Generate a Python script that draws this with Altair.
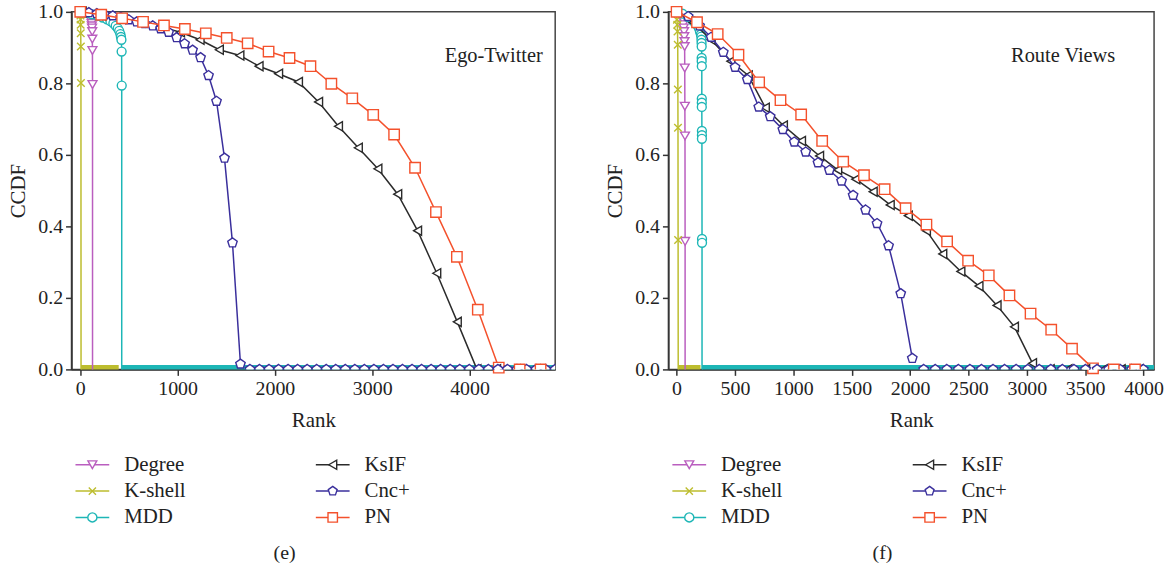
import altair as alt
import pandas as pd

FONT = "Liberation Serif"

SERIES = ["Degree", "K-shell", "MDD", "KsIF", "Cnc+", "PN"]
COLORS = ["#BA5EBF", "#BDBD2E", "#1DB6B6", "#2B2B2B", "#3A2F9C", "#F4512C"]
PENTAGON = "M0,-1L0.951,-0.309L0.588,0.809L-0.588,0.809L-0.951,-0.309Z"
XMARK = "M-0.8,-0.8L0.8,0.8M0.8,-0.8L-0.8,0.8"
SHAPES = ["triangle-down", XMARK, "circle", "triangle-left", PENTAGON, "square"]
SIZES = [80, 90, 80, 85, 100, 110]

# ---------------- Ego-Twitter ----------------
ego_degree_rank = [0, 40, 80, 100, 108, 112, 116, 119, 121, 123, 124, 125, 126, 126]
ego_degree_ccdf = [1.0, 0.998, 0.994, 0.988, 0.982, 0.976, 0.968, 0.961, 0.955, 0.945, 0.924, 0.892, 0.797, 0.0]

ego_kshell_rank = [0, 2, 3, 4, 5, 6, 7, 8]
ego_kshell_ccdf = [1.0, 0.99, 0.979, 0.964, 0.94, 0.903, 0.801, 0.0]

ego_mdd_rank = [0, 60, 120, 180, 230, 275, 310, 340, 364, 385, 400, 412, 418, 423, 425, 426, 426]
ego_mdd_ccdf = [1.0, 0.997, 0.993, 0.989, 0.984, 0.979, 0.974, 0.968, 0.961, 0.954, 0.947, 0.938,
                0.93, 0.922, 0.889, 0.794, 0.0]

ego_ksif_rank = [20, 222, 424, 626, 828, 1030, 1231, 1429, 1640, 1837, 2038, 2242, 2449, 2653,
                 2857, 3058, 3262, 3466, 3663, 3874, 4076]
ego_ksif_ccdf = [1.0, 0.99, 0.98, 0.97, 0.958, 0.943, 0.922, 0.894, 0.878, 0.848, 0.827, 0.804,
                 0.748, 0.680, 0.620, 0.561, 0.490, 0.388, 0.269, 0.133, 0.0]

ego_cnc_rank = [6, 88, 170, 252, 334, 416, 498, 580, 662, 744, 826, 908, 990, 1072, 1154, 1236,
                1318, 1400, 1482, 1564, 1646]
ego_cnc_ccdf = [1.0, 0.998, 0.995, 0.992, 0.989, 0.985, 0.978, 0.972, 0.967, 0.961, 0.953, 0.943,
                0.928, 0.911, 0.893, 0.872, 0.822, 0.750, 0.591, 0.354, 0.015]

ego_pn_rank = [0, 215, 430, 645, 860, 1075, 1290, 1505, 1720, 1935, 2150, 2365, 2580, 2795, 3010,
               3225, 3440, 3655, 3870, 4085, 4300]
ego_pn_ccdf = [1.0, 0.992, 0.982, 0.972, 0.962, 0.952, 0.940, 0.927, 0.912, 0.889, 0.871, 0.848,
               0.799, 0.758, 0.712, 0.657, 0.564, 0.440, 0.315, 0.167, 0.005]

# ranks where the CCDF has already reached zero
ego_ksif_zero = [4076, 4278, 4480, 4682]
ego_cnc_zero = [1744, 1842, 1940, 2038, 2136, 2234, 2332, 2430, 2528, 2626, 2724, 2822, 2920,
                3018, 3116, 3214, 3312, 3410, 3508, 3606, 3704, 3802, 3900, 3998, 4096, 4194,
                4292, 4390, 4488, 4586, 4684, 4782, 4880]
ego_pn_zero = [4515, 4730]
ego_kshell_zero = [8, 395]
ego_mdd_zero = [426, 4880]

# ---------------- Route Views ----------------
rv_degree_rank = [0, 30, 50, 57, 61, 64, 66, 68, 69, 70, 71, 72, 73, 73]
rv_degree_ccdf = [1.0, 0.99, 0.98, 0.964, 0.955, 0.945, 0.931, 0.917, 0.903, 0.843, 0.736, 0.653,
                  0.358, 0.0]

rv_kshell_rank = [0, 3, 6, 8, 10, 11, 12, 13, 14]
rv_kshell_ccdf = [1.0, 0.978, 0.964, 0.945, 0.908, 0.783, 0.676, 0.362, 0.0]

rv_mdd_rank = [0, 50, 100, 140, 170, 190, 200, 208, 212, 213, 214, 215, 215, 215, 216, 216, 216,
               216, 217, 217, 217, 218, 218, 218]
rv_mdd_ccdf = [1.0, 0.995, 0.985, 0.975, 0.965, 0.955, 0.945, 0.937, 0.931, 0.922, 0.913, 0.903,
               0.871, 0.862, 0.848, 0.757, 0.746, 0.734, 0.667, 0.655, 0.645, 0.365, 0.354, 0.0]

rv_ksif_rank = [0, 141, 296, 465, 614, 760, 915, 1070, 1225, 1380, 1535, 1684, 1830, 1985, 2140,
                2280, 2435, 2590, 2745, 2894, 3049]
rv_ksif_ccdf = [1.0, 0.97, 0.922, 0.862, 0.822, 0.732, 0.682, 0.639, 0.597, 0.558, 0.532, 0.497,
                0.460, 0.430, 0.388, 0.323, 0.274, 0.233, 0.179, 0.119, 0.017]

rv_cnc_rank = [0, 99, 197, 296, 400, 501, 606, 704, 802, 910, 1008, 1106, 1211, 1309, 1413, 1512,
               1619, 1717, 1816, 1920, 2019]
rv_cnc_ccdf = [1.0, 0.987, 0.961, 0.929, 0.887, 0.845, 0.811, 0.734, 0.707, 0.671, 0.636, 0.608,
               0.578, 0.557, 0.527, 0.487, 0.446, 0.408, 0.346, 0.212, 0.031]

rv_pn_rank = [0, 175, 352, 530, 707, 890, 1067, 1247, 1427, 1605, 1782, 1962, 2140, 2317, 2497,
              2674, 2851, 3032, 3209, 3387, 3567]
rv_pn_ccdf = [1.0, 0.971, 0.938, 0.880, 0.803, 0.753, 0.713, 0.639, 0.581, 0.543, 0.504, 0.451,
              0.405, 0.358, 0.304, 0.263, 0.207, 0.156, 0.111, 0.058, 0.003]

rv_ksif_zero = [3200, 3352, 3504, 3656, 3808, 3960]
rv_cnc_zero = [2117, 2216, 2315, 2414, 2513, 2612, 2711, 2810, 2909, 3008, 3107, 3206, 3305, 3404,
               3503, 3602, 3701, 3800, 3899, 3998]
rv_pn_zero = [3745, 3927]
rv_kshell_zero = [14, 205]
rv_mdd_zero = [218, 4090]

# legend layout: two columns of three entries
legend_col = [0, 0, 0, 1, 1, 1]
legend_row = [0, 1, 2, 0, 1, 2]


def frame(rank, ccdf):
    return pd.DataFrame({"rank": rank, "ccdf": ccdf, "idx": list(range(len(rank)))})


def panel(curves, zero_marks, bands, x_domain, x_ticks, name, name_pos, width):
    x = alt.X("rank:Q", title="Rank",
              scale=alt.Scale(domain=x_domain, nice=False, zero=False),
              axis=alt.Axis(values=x_ticks, format="d", titlePadding=11))
    y = alt.Y("ccdf:Q", title="CCDF",
              scale=alt.Scale(domain=[0, 1], nice=False),
              axis=alt.Axis(values=[0, 0.2, 0.4, 0.6, 0.8, 1.0], format=".1f", titlePadding=9))
    layers = []
    # thick bands along zero (MDD first, K-shell on top of it)
    for key in ["MDD", "K-shell"]:
        i = SERIES.index(key)
        r = bands[key]
        layers.append(alt.Chart(frame(r, [0.0] * len(r))).mark_line(
            color=COLORS[i], strokeWidth=9, clip=True).encode(x=x, y=y, order="idx:Q"))
    for i, s in enumerate(SERIES):
        r, c = curves[s]
        df = frame(r, c)
        layers.append(alt.Chart(df).mark_line(color=COLORS[i], strokeWidth=1.5).encode(
            x=x, y=y, order="idx:Q"))
        layers.append(alt.Chart(df).transform_filter("datum.ccdf > 0").mark_point(
            shape=SHAPES[i], size=SIZES[i], stroke=COLORS[i], fill="white", filled=False,
            fillOpacity=1, opacity=1, strokeWidth=1.4).encode(x=x, y=y))
    for s in ["KsIF", "Cnc+", "PN"]:
        i = SERIES.index(s)
        r = zero_marks[s]
        layers.append(alt.Chart(frame(r, [0.0] * len(r))).mark_point(
            shape=SHAPES[i], size=SIZES[i], stroke=COLORS[i], fill="white", fillOpacity=1,
            opacity=1, strokeWidth=1.4, clip=True).encode(x=x, y=y))
    label = pd.DataFrame({"rank": [name_pos[0]], "ccdf": [name_pos[1]], "t": [name]})
    layers.append(alt.Chart(label).mark_text(
        align="left", baseline="middle", font=FONT, fontSize=20.5, color="#222").encode(
        x=x, y=y, text="t:N"))
    return alt.layer(*layers).properties(width=width, height=360)


def legend(width, caption):
    df = pd.DataFrame({"series": SERIES, "col": legend_col, "row": legend_row})
    lx = alt.X("col:Q", scale=alt.Scale(domain=[0, 1], range=[21, 263]), axis=None)
    ly = alt.Y("row:Q", scale=alt.Scale(domain=[0, 2], range=[13, 66]), axis=None)
    color = alt.Color("series:N", scale=alt.Scale(domain=SERIES, range=COLORS), legend=None)
    shape = alt.Shape("series:N", scale=alt.Scale(domain=SERIES, range=SHAPES), legend=None)
    size = alt.Size("series:N", scale=alt.Scale(domain=SERIES, range=SIZES), legend=None)
    seg = alt.Chart(df).mark_rule(strokeWidth=1.5, xOffset=-17, x2Offset=17).encode(
        x=lx, x2="col:Q", y=ly, color=color)
    pts = alt.Chart(df).mark_point(fill="white", fillOpacity=1, opacity=1, strokeWidth=1.4).encode(
        x=lx, y=ly, shape=shape, size=size,
        stroke=alt.Stroke("series:N", scale=alt.Scale(domain=SERIES, range=COLORS), legend=None))
    txt = alt.Chart(df).mark_text(align="left", baseline="middle", dx=32, font=FONT, fontSize=21,
                                  color="#222").encode(x=lx, y=ly, text="series:N")
    return alt.layer(seg, pts, txt).properties(
        width=width, height=78,
        view=alt.ViewBackground(stroke="transparent"),
        title=alt.TitleParams(caption, orient="bottom", anchor="middle", font=FONT, fontSize=20,
                              fontWeight="normal", color="#222", dx=-29, offset=14))


left = panel(
    {"Degree": (ego_degree_rank, ego_degree_ccdf), "K-shell": (ego_kshell_rank, ego_kshell_ccdf),
     "MDD": (ego_mdd_rank, ego_mdd_ccdf), "KsIF": (ego_ksif_rank, ego_ksif_ccdf),
     "Cnc+": (ego_cnc_rank, ego_cnc_ccdf), "PN": (ego_pn_rank, ego_pn_ccdf)},
    {"KsIF": ego_ksif_zero, "Cnc+": ego_cnc_zero, "PN": ego_pn_zero},
    {"K-shell": ego_kshell_zero, "MDD": ego_mdd_zero},
    [-90, 4880], [0, 1000, 2000, 3000, 4000], "Ego-Twitter", (3745, 0.877), 487)

right = panel(
    {"Degree": (rv_degree_rank, rv_degree_ccdf), "K-shell": (rv_kshell_rank, rv_kshell_ccdf),
     "MDD": (rv_mdd_rank, rv_mdd_ccdf), "KsIF": (rv_ksif_rank, rv_ksif_ccdf),
     "Cnc+": (rv_cnc_rank, rv_cnc_ccdf), "PN": (rv_pn_rank, rv_pn_ccdf)},
    {"KsIF": rv_ksif_zero, "Cnc+": rv_cnc_zero, "PN": rv_pn_zero},
    {"K-shell": rv_kshell_zero, "MDD": rv_mdd_zero},
    [-70, 4090], [0, 500, 1000, 1500, 2000, 2500, 3000, 3500, 4000], "Route Views",
    (2865, 0.877), 489)

chart = alt.hconcat(
    alt.vconcat(left, legend(487, "(e)"), spacing=20),
    alt.vconcat(right, legend(489, "(f)"), spacing=20),
    spacing=48,
).properties(
    padding={"left": 7, "top": -1, "right": 0, "bottom": 0}
).configure_view(
    stroke="#444", strokeWidth=1.5
).configure_axis(
    labelFont=FONT, titleFont=FONT, labelFontSize=20, titleFontSize=21, titleFontWeight="normal",
    labelColor="#222", titleColor="#222", domainColor="#333", tickColor="#333",
    domainWidth=1.5, tickWidth=1.5, tickSize=6, labelPadding=3, grid=False
)

chart.save("out.html", embed_options={"renderer": "svg", "actions": False})
